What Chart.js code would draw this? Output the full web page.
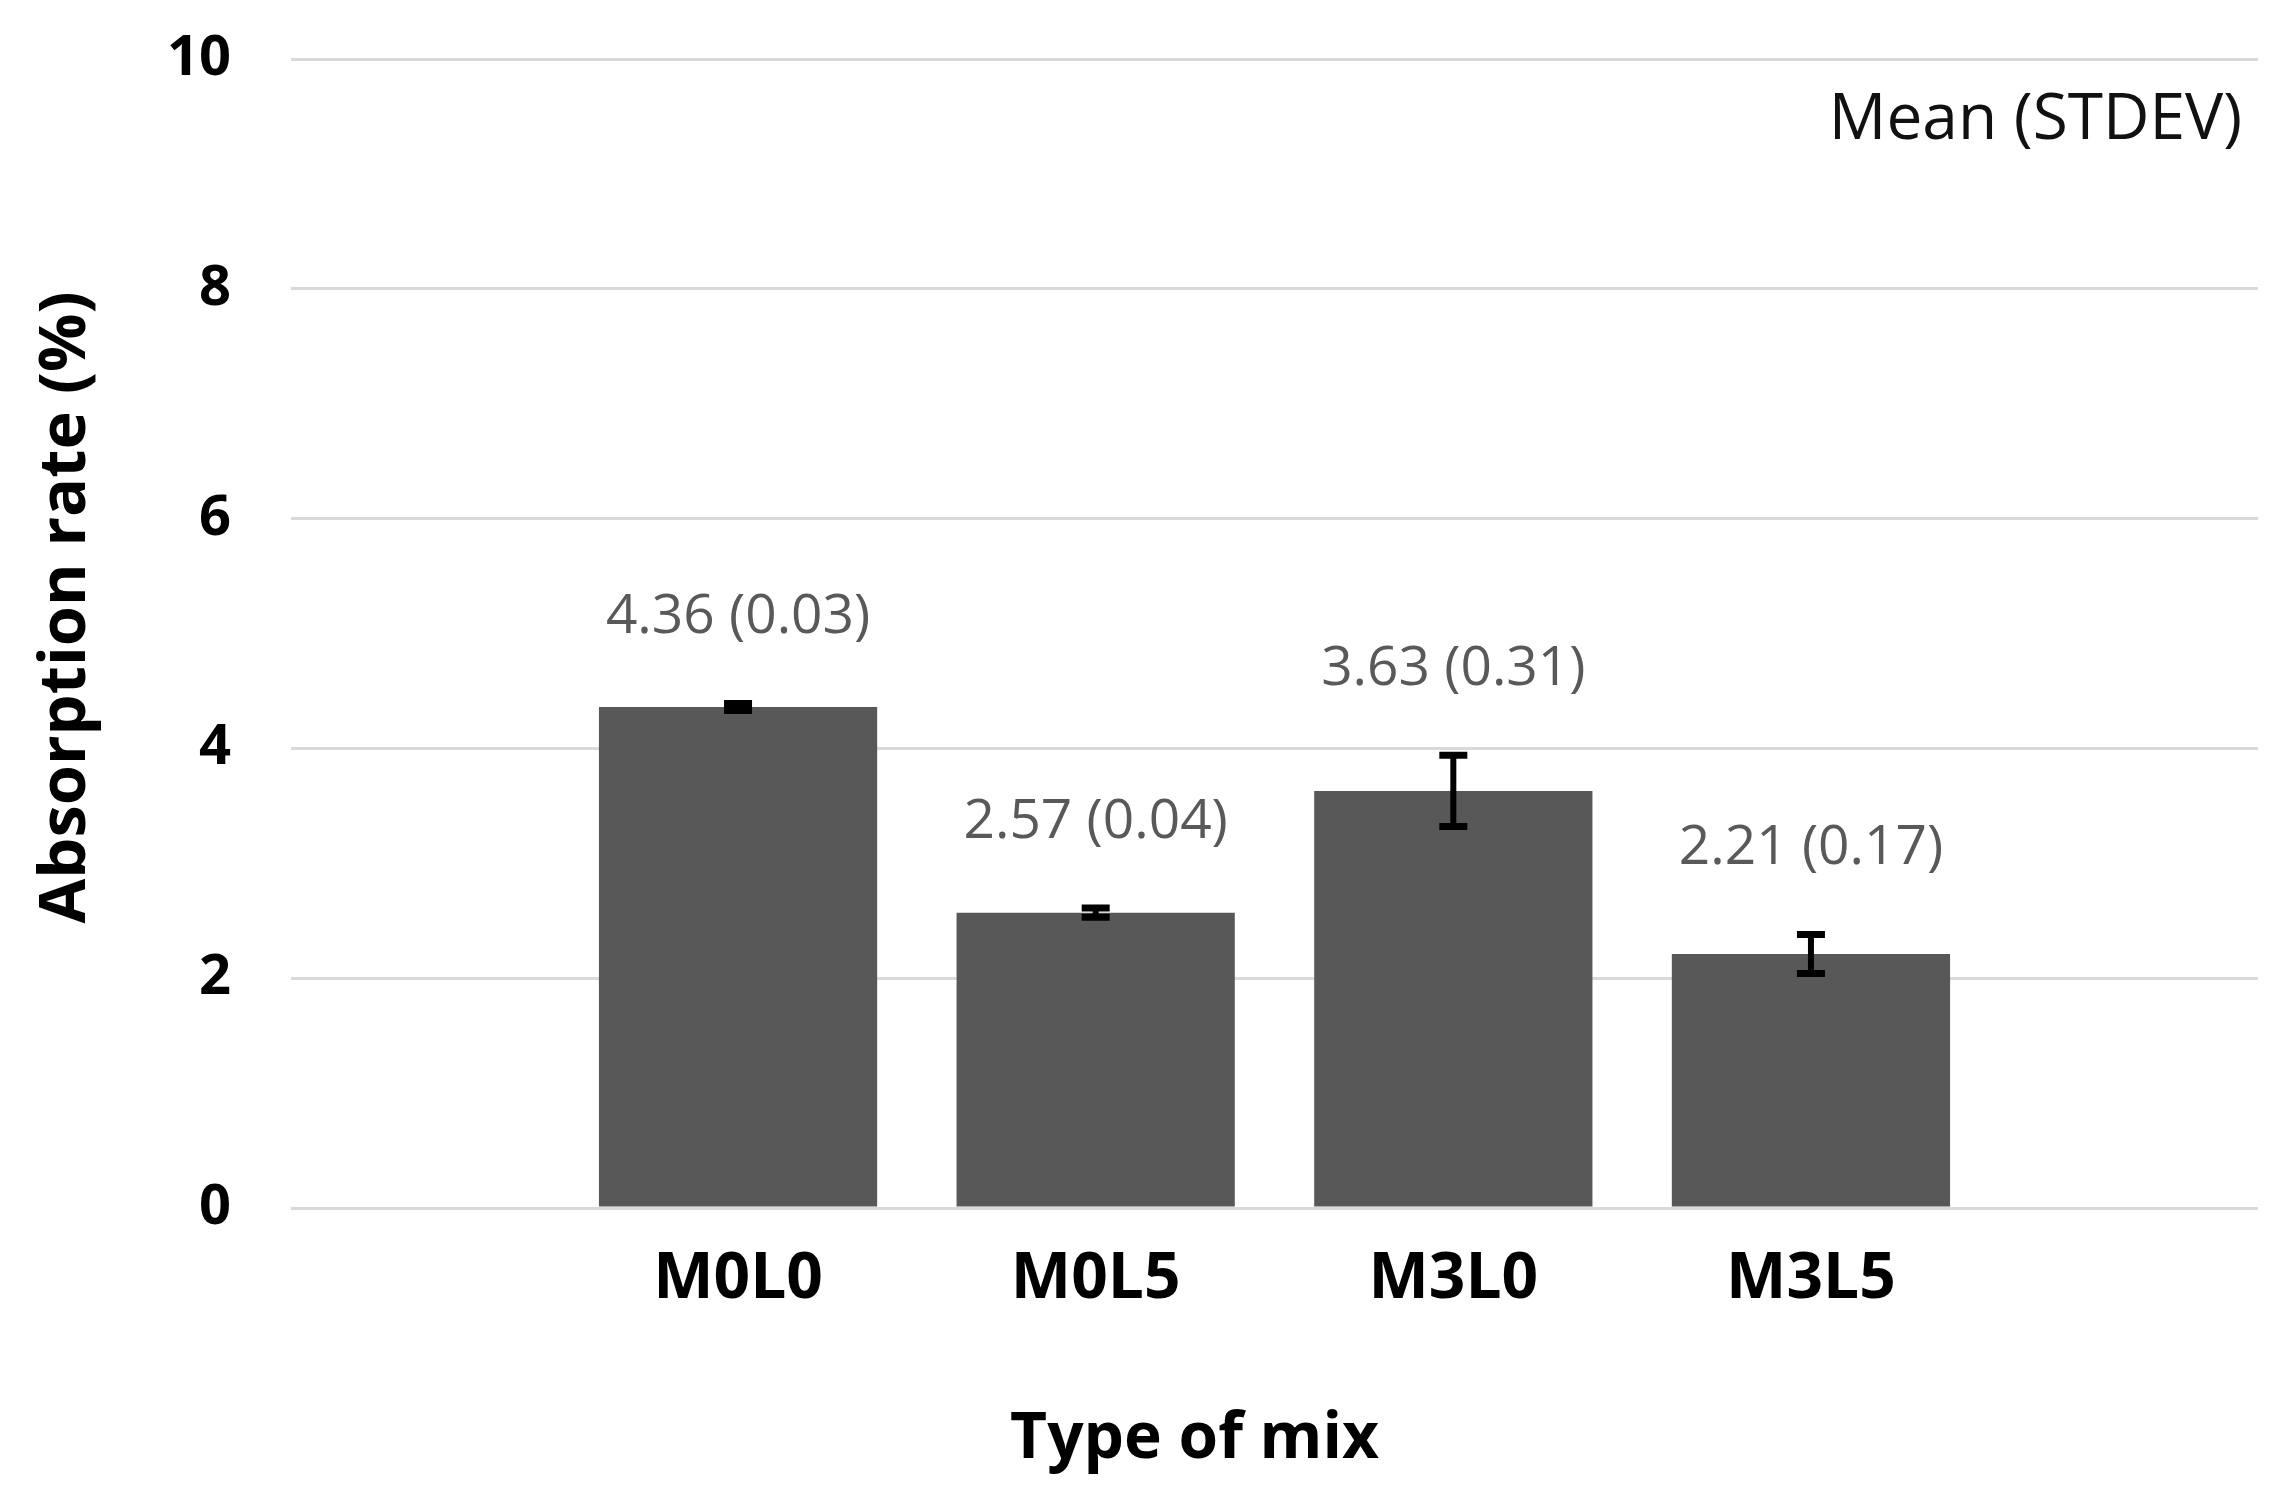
<!DOCTYPE html>
<html>
<head>
<meta charset="utf-8">
<title>Absorption rate by type of mix</title>
<script src="https://cdn.jsdelivr.net/npm/chart.js"></script>
<style>
    html, body { margin: 0; padding: 0; background: #fff; }
    #wrap { width: 2292px; height: 1504px; position: relative; }
</style>
</head>
<body>
<div id="wrap"><canvas id="absorptionChart"></canvas></div>
<script>
// Values
const mixTypes = ['M0L0', 'M0L5', 'M3L0', 'M3L5'];
const meanValues = [4.36, 2.57, 3.63, 2.21];
const stdevValues = [0.03, 0.04, 0.31, 0.17];
const yTicks = [0, 2, 4, 6, 8, 10];

const FONT = "'Open Sans', 'Noto Sans', sans-serif";

// Error bars, "mean (stdev)" labels and the axis titles
const errorBarPlugin = {
    id: 'errorBars',
    afterDatasetsDraw(chart) {
        const ctx = chart.ctx;
        const xScale = chart.scales.x;
        const yScale = chart.scales.y;
        const area = chart.chartArea;
        ctx.save();
        meanValues.forEach((mean, i) => {
            const x = xScale.getPixelForValue(i + 1);
            const top = yScale.getPixelForValue(mean + stdevValues[i]);
            const bottom = yScale.getPixelForValue(mean - stdevValues[i]);
            const cap = 14;

            ctx.strokeStyle = '#000';
            ctx.lineCap = 'butt';
            ctx.lineWidth = 6;
            ctx.beginPath();
            ctx.moveTo(x, top);
            ctx.lineTo(x, bottom);
            ctx.stroke();

            ctx.lineWidth = 7;
            ctx.beginPath();
            ctx.moveTo(x - cap, top);
            ctx.lineTo(x + cap, top);
            ctx.moveTo(x - cap, bottom);
            ctx.lineTo(x + cap, bottom);
            ctx.stroke();

            ctx.fillStyle = '#595959';
            ctx.font = '55px ' + FONT;
            ctx.textAlign = 'center';
            ctx.textBaseline = 'middle';
            ctx.fillText(mean.toFixed(2) + ' (' + stdevValues[i].toFixed(2) + ')', x, top - 86);
        });

        // note in the upper right corner
        ctx.fillStyle = '#111';
        ctx.font = '64px ' + FONT;
        ctx.textAlign = 'right';
        ctx.textBaseline = 'middle';
        ctx.fillText('Mean (STDEV)', area.right - 16, area.top + 62);

        // x axis title, a bit left of the plot centre as in the original
        ctx.fillStyle = '#000';
        ctx.font = '700 64px ' + FONT;
        ctx.textAlign = 'center';
        ctx.fillText('Type of mix', (area.left + area.right) / 2 - 80, chart.height - 64);

        // y axis title, rotated
        ctx.translate(66, (area.top + area.bottom) / 2 - 26);
        ctx.rotate(-Math.PI / 2);
        ctx.font = '700 65px ' + FONT;
        ctx.fillText('Absorption rate (%)', 0, 0);
        ctx.restore();
    }
};

new Chart(document.getElementById('absorptionChart'), {
    type: 'bar',
    data: {
        datasets: [{
            label: 'Absorption rate',
            data: mixTypes.map((name, i) => ({ x: i + 1, y: meanValues[i] })),
            backgroundColor: '#585858',
            borderWidth: 0,
            categoryPercentage: 1,
            barPercentage: 0.778
        }]
    },
    options: {
        responsive: true,
        maintainAspectRatio: false,
        devicePixelRatio: 1,
        animation: false,
        layout: {
            padding: { top: 59, right: 34, left: 0, bottom: 0 }
        },
        plugins: {
            legend: { display: false },
            tooltip: { enabled: false }
        },
        scales: {
            x: {
                type: 'linear',
                offset: false,
                min: -0.25,
                max: 5.25,
                afterFit: function(scale) {
                    scale.height = 296;
                    scale.paddingLeft = 0;
                    scale.paddingRight = 0;
                },
                grid: { display: false },
                border: { display: false },
                ticks: {
                    stepSize: 1,
                    autoSkip: false,
                    maxRotation: 0,
                    padding: 25,
                    color: '#000',
                    font: { family: FONT, size: 64, weight: '700' },
                    callback: function(value) {
                        const idx = value - 1;
                        return Number.isInteger(idx) && mixTypes[idx] ? mixTypes[idx] : '';
                    }
                }
            },
            y: {
                min: yTicks[0],
                max: yTicks[yTicks.length - 1],
                afterFit: function(scale) {
                    scale.width = 291;
                    // tick padding would otherwise push the plot down
                    scale.paddingTop = 0;
                    scale.paddingBottom = 0;
                },
                afterBuildTicks: function(scale) {
                    scale.ticks = yTicks.map(v => ({ value: v }));
                },
                grid: {
                    color: '#d9d9d9',
                    lineWidth: 3,
                    drawTicks: false
                },
                border: { display: false },
                ticks: {
                    padding: 60,
                    color: '#000',
                    font: { family: FONT, size: 56, weight: '700' }
                }
            }
        }
    },
    plugins: [errorBarPlugin]
});
</script>
</body>
</html>
